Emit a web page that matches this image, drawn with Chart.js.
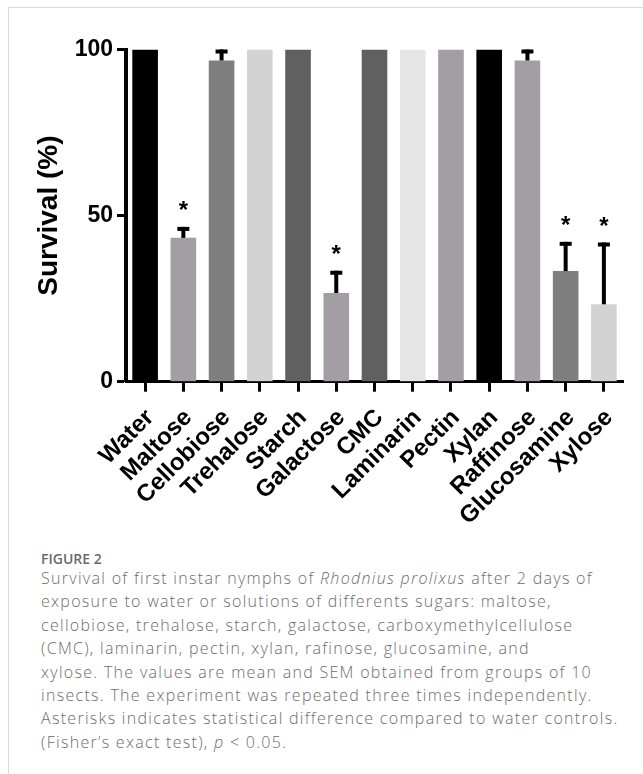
<!DOCTYPE html>
<html>
<head>
<meta charset="utf-8">
<script src="https://cdn.jsdelivr.net/npm/chart.js@4"></script>
<style>
  html, body { margin: 0; padding: 0; background: #fff; width: 643px; height: 774px; overflow: hidden; }
  #card { position: absolute; left: 8px; top: 7px; width: 700px; height: 800px; border: 1px solid #d9d9d9; box-sizing: border-box; }
  #wrap { position: absolute; left: 0; top: 0; width: 643px; height: 540px; }
  #caption { position: absolute; left: 41px; top: 551px; font-family: "Open Sans", "Noto Sans", sans-serif; color: #6c6c6c; white-space: nowrap; }
  #caption .fig { font-size: 14px; line-height: 16px; font-weight: 600; height: 16px; color: #6a6a6a; }
  #caption .ln { font-size: 16px; line-height: 23.4px; letter-spacing: 1.3px; font-weight: 300; }
</style>
</head>
<body>
<div id="card"></div>
<div id="wrap"><canvas id="myChart"></canvas></div>
<div id="caption">
  <div class="fig">FIGURE 2</div>
  <div class="ln">Survival of first instar nymphs of <i>Rhodnius prolixus</i> after 2 days of</div>
  <div class="ln">exposure to water or solutions of differents sugars: maltose,</div>
  <div class="ln">cellobiose, trehalose, starch, galactose, carboxymethylcellulose</div>
  <div class="ln">(CMC), laminarin, pectin, xylan, rafinose, glucosamine, and</div>
  <div class="ln">xylose. The values are mean and SEM obtained from groups of 10</div>
  <div class="ln">insects. The experiment was repeated three times independently.</div>
  <div class="ln">Asterisks indicates statistical difference compared to water controls.</div>
  <div class="ln">(Fisher’s exact test), <i>p</i> &lt; 0.05.</div>
</div>
<script>
// data
const categories = ['Water', 'Maltose', 'Cellobiose', 'Trehalose', 'Starch', 'Galactose', 'CMC',
  'Laminarin', 'Pectin', 'Xylan', 'Raffinose', 'Glucosamine', 'Xylose'];
const survival = [100, 43.3, 96.7, 100, 100, 26.7, 100, 100, 100, 100, 96.7, 33.3, 23.3];
const sem = [0, 3.3, 3.3, 0, 0, 6.7, 0, 0, 0, 0, 3.3, 8.8, 18.6];
const significant = [false, true, false, false, false, true, false, false, false, false, false, true, true];
const barColors = ['#000000', '#a39ea3', '#7f7f7f', '#d3d3d3', '#606060', '#a39ea3', '#606060',
  '#e5e5e5', '#a39ea3', '#000000', '#a39ea3', '#7f7f7f', '#d3d3d3'];
const yTicks = [0, 50, 100];

const FONT = '"Liberation Sans", Arial, sans-serif';

// SEM bars (upper only) and significance asterisks
const errorBars = {
  id: 'errorBars',
  afterDatasetsDraw(chart) {
    const ctx = chart.ctx;
    const yScale = chart.scales.y;
    const meta = chart.getDatasetMeta(0);
    ctx.save();
    meta.data.forEach((bar, i) => {
      const yTop = yScale.getPixelForValue(survival[i] + sem[i]);
      if (sem[i] > 0) {
        ctx.fillStyle = '#000';
        ctx.fillRect(bar.x - 2, yTop, 4, bar.y - yTop);
        ctx.fillRect(bar.x - 6, yTop, 12, 4);
      }
      if (significant[i]) {
        ctx.font = 'bold 24px ' + FONT;
        ctx.textAlign = 'center';
        ctx.textBaseline = 'alphabetic';
        ctx.fillText('*', bar.x, yTop - 9);
      }
    });
    ctx.restore();
  }
};

const ctx = document.getElementById('myChart').getContext('2d');
new Chart(ctx, {
  type: 'bar',
  data: {
    labels: categories,
    datasets: [{
      data: survival,
      backgroundColor: barColors,
      borderWidth: 0,
      barPercentage: 0.67,
      categoryPercentage: 1
    }]
  },
  options: {
    responsive: true,
    maintainAspectRatio: false,
    animation: false,
    layout: { padding: { top: 49.5, right: 20, bottom: 0, left: 0 } },
    plugins: { legend: { display: false }, tooltip: { enabled: false } },
    scales: {
      x: {
        offset: true,
        border: { display: true, color: '#000', width: 3 },
        grid: { display: true, drawOnChartArea: false, drawTicks: true, tickLength: 10, tickWidth: 3, tickColor: '#000', offset: false },
        ticks: {
          color: '#000', autoSkip: false, maxRotation: 45, minRotation: 45, padding: 12, labelOffset: 5,
          font: { family: FONT, weight: 'bold', size: 24 }
        },
        afterFit(s) { s.height = 540 - 381.7; }
      },
      y: {
        min: 0, max: 100,
        border: { display: true, color: '#000', width: 4 },
        grid: { display: true, drawOnChartArea: false, drawTicks: true, tickLength: 9, tickWidth: 3, tickColor: '#000' },
        ticks: { color: '#000', padding: 4, font: { family: FONT, weight: 'bold', size: 23 } },
        afterBuildTicks(s) { s.ticks = yTicks.map(v => ({ value: v })); },
        title: {
          display: true, text: 'Survival (%)', color: '#000',
          font: { family: FONT, weight: 'bold', size: 28 },
          padding: { top: 32, bottom: 0 }
        },
        afterFit(s) { s.width = 126; }
      }
    }
  },
  plugins: [errorBars]
});
</script>
</body>
</html>
